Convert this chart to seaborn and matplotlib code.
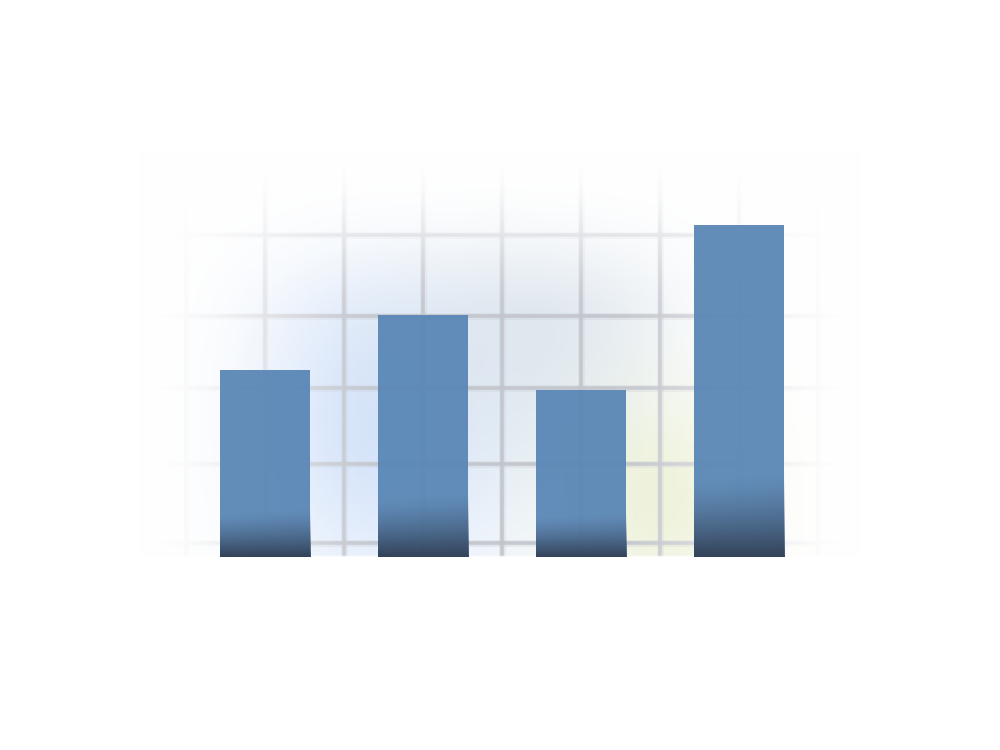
import numpy as np
import matplotlib
matplotlib.use('Agg')
import matplotlib.pyplot as plt
import seaborn as sns
from matplotlib.colors import to_rgb

# bar values (one grid step = 1 unit, bar base = 0)
categories = ['A', 'B', 'C', 'D']
values = [2.44, 3.16, 2.18, 4.33]

# grid positions
grid_y = [0.18, 1.21, 2.20, 3.15, 4.20, 5.18]
grid_x = [-0.5, 0.0, 0.5, 1.0, 1.5, 2.0, 2.5, 3.0, 3.5]

# height of the dark shade at the foot of each bar (style)
shade_h = [0.60, 0.80, 0.55, 1.05]

X0, X1 = -1.677, 4.652
Y0, Y1 = -2.52, 7.27

sns.set_theme(style='white')
fig = plt.figure(figsize=(10, 7.5), dpi=100)
ax = fig.add_axes([0, 0, 1, 1])

# pixel grid for background / mask
W, H = 500, 375
px = np.linspace(0, 1000, W)[None, :].repeat(H, 0)
py = np.linspace(0, 750, H)[:, None].repeat(W, 1)


def blob(cx, cy, sx, sy):
    return np.exp(-(((px - cx) / sx) ** 2 + ((py - cy) / sy) ** 2))


bg = np.ones((H, W, 3))
for (cx, cy, sx, sy, col, k) in [
    (350, 420, 190, 170, '#d3e3fb', 1.0),
    (530, 330, 150, 130, '#dbe4ec', 0.8),
    (690, 500, 120, 110, '#ebf0d2', 0.95),
]:
    w = (blob(cx, cy, sx, sy) * k)[..., None]
    bg = bg * (1 - w) + np.array(to_rgb(col)) * w
ax.imshow(bg, extent=[X0, X1, Y0, Y1], origin='upper', aspect='auto',
          zorder=0, interpolation='bilinear')

# grid lines (soft: a faint halo plus the line itself)
gcol = '#c2c5cc'
for gy in grid_y:
    ax.plot([-0.8, 3.8], [gy, gy], color=gcol, lw=5.0, alpha=0.25, zorder=1,
            solid_capstyle='butt')
    ax.plot([-0.8, 3.8], [gy, gy], color=gcol, lw=2.6, alpha=0.9, zorder=1,
            solid_capstyle='butt')
for gx in grid_x:
    ax.plot([gx, gx], [0, 5.3], color=gcol, lw=5.0, alpha=0.25, zorder=1,
            solid_capstyle='butt')
    ax.plot([gx, gx], [0, 5.3], color=gcol, lw=2.6, alpha=0.9, zorder=1,
            solid_capstyle='butt')


def smooth(t):
    t = np.clip(t, 0, 1)
    return t * t * (3 - 2 * t)


# fade mask to white toward the edges
ex = smooth((360 - np.abs(px - 500)) / 260)
ey = smooth((py - 152) / 175)
env = ex * ey
env[py > 557] = 0
mask = np.ones((H, W, 4))
mask[..., 3] = 1 - env
ax.imshow(mask, extent=[X0, X1, Y0, Y1], origin='upper', aspect='auto',
          zorder=2, interpolation='bilinear')

# bars
sns.barplot(x=categories, y=values, color='#5a87b6', saturation=1,
            width=0.57, alpha=0.95, linewidth=0, edgecolor='none',
            ax=ax, zorder=3)

dark = np.array(to_rgb('#2f3c50'))
for patch, sh in zip(ax.patches, shade_h):
    bx, bw = patch.get_x(), patch.get_width()
    n = 100
    t = np.linspace(1, 0, n)[:, None]
    xs = np.linspace(0, 1, 40)[None, :]
    # slightly curved edge of the shade
    edge = sh * (1 + 0.12 * xs - 0.06)
    a = np.clip(1 - (t * sh * 1.2) / edge, 0, 1) ** 1.4 * 0.92
    img = np.zeros((n, 40, 4))
    img[..., :3] = dark
    img[..., 3] = a
    im = ax.imshow(img, extent=[bx, bx + bw, 0, sh * 1.2], origin='upper',
                   aspect='auto', zorder=4, interpolation='bilinear')
    im.set_clip_path(patch)

ax.set_xlim(X0, X1)
ax.set_ylim(Y0, Y1)
ax.axis('off')

fig.savefig('out.png', dpi=100)
plt.close(fig)
